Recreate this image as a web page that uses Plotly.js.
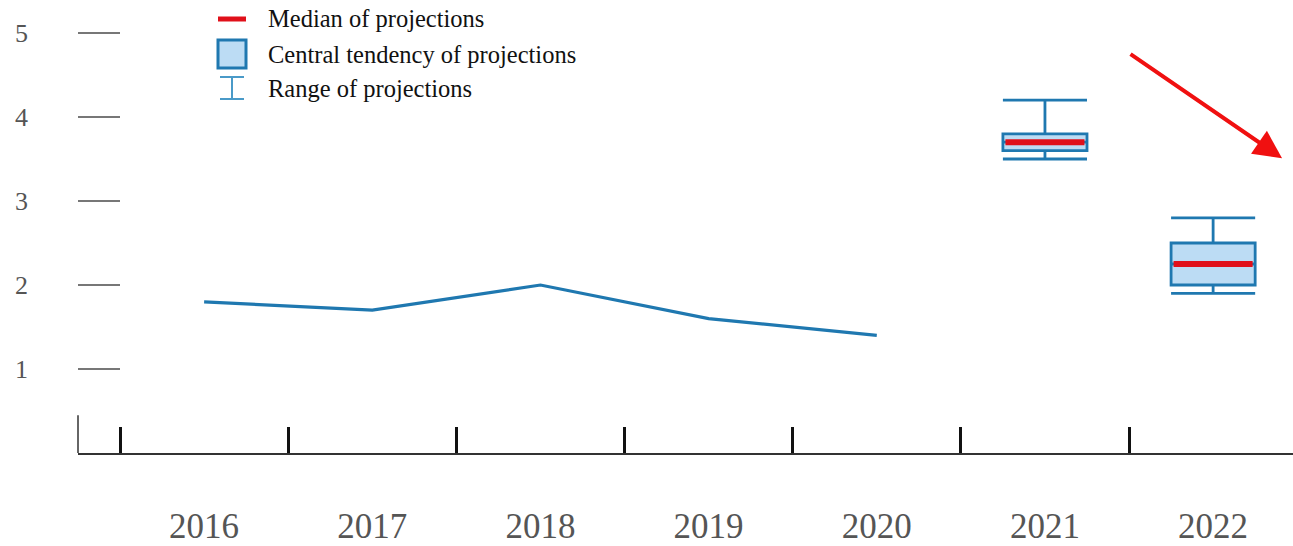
<!DOCTYPE html>
<html>
<head>
<meta charset="utf-8">
<script src="https://cdn.plot.ly/plotly-3.0.1.min.js"></script>
<style>html,body{margin:0;padding:0;background:#fff;}#chart{width:1293px;height:546px;}</style>
</head>
<body>
<div id="chart"></div>
<script>
// Historical values
const histYears = [2016, 2017, 2018, 2019, 2020];
const histValues = [1.8, 1.7, 2.0, 1.6, 1.4];
// Projections
const projYears = [2021, 2022];
const rangeLow = [3.5, 1.9];
const rangeHigh = [4.2, 2.8];
const centralLow = [3.6, 2.0];
const centralHigh = [3.8, 2.5];
const medians = [3.7, 2.25];
// Ticks
const xTickYears = [2016, 2017, 2018, 2019, 2020, 2021, 2022];
const xTickLabels = ['2016', '2017', '2018', '2019', '2020', '2021', '2022'];
const xBoundaries = [2015.5, 2016.5, 2017.5, 2018.5, 2019.5, 2020.5, 2021.5];
const yTicks = [1, 2, 3, 4, 5];
const legendLabels = ['Median of projections', 'Central tendency of projections', 'Range of projections'];

const W = 1293, H = 546, ML = 78, MR = 0, MT = 0, MB = 93;
const PW = W - ML - MR, PH = H - MT - MB;
const px = v => (v - ML) / PW;
const py = v => (H - MB - v) / PH;

const blue = '#1f78b0';
const fillBlue = '#bcdcf4';
const red = '#e0101a';
const serif = 'Liberation Serif, Times New Roman, serif';

const traces = [
  {
    type: 'scatter', mode: 'lines', x: histYears, y: histValues,
    line: {color: blue, width: 3.2}, hoverinfo: 'x+y', showlegend: false
  },
  {
    type: 'box', x: projYears, q1: centralLow, q3: centralHigh, median: centralLow.map((v, i) => (v + centralHigh[i]) / 2),
    lowerfence: rangeLow, upperfence: rangeHigh, width: 0.5, whiskerwidth: 1,
    fillcolor: fillBlue, line: {color: blue, width: 2.8}, boxpoints: false, showlegend: false
  },
  {
    type: 'box', x: projYears, q1: medians, q3: medians, median: medians,
    lowerfence: medians, upperfence: medians, width: 0.47, whiskerwidth: 0,
    fillcolor: 'rgba(0,0,0,0)', line: {color: red, width: 6}, boxpoints: false, showlegend: false
  }
];

const shapes = [
  // partial left axis line
  {type: 'line', xref: 'paper', yref: 'y', x0: 0, x1: 0, y0: 0, y1: 0.45, line: {color: '#333', width: 1.5}},
  // legend: median
  {type: 'line', xref: 'paper', yref: 'paper', x0: px(218), x1: px(246), y0: py(19), y1: py(19), line: {color: red, width: 5}},
  // legend: central tendency
  {type: 'rect', xref: 'paper', yref: 'paper', x0: px(218), x1: px(246), y0: py(68), y1: py(40), fillcolor: fillBlue, line: {color: blue, width: 3}},
  // legend: range
  {type: 'line', xref: 'paper', yref: 'paper', x0: px(232), x1: px(232), y0: py(77), y1: py(99), line: {color: '#4a9ac8', width: 2}},
  {type: 'line', xref: 'paper', yref: 'paper', x0: px(220), x1: px(244), y0: py(77), y1: py(77), line: {color: '#4a9ac8', width: 2}},
  {type: 'line', xref: 'paper', yref: 'paper', x0: px(220), x1: px(244), y0: py(99), y1: py(99), line: {color: '#4a9ac8', width: 2}}
];

const legendY = [19, 54, 88];
const annotations = legendLabels.map((t, i) => ({
  xref: 'paper', yref: 'paper', x: px(266), y: py(legendY[i]), text: t, showarrow: false,
  xanchor: 'left', yanchor: 'middle', font: {family: serif, size: 24.5, color: '#111'}
}));
annotations.push({
  xref: 'x', yref: 'y', axref: 'x', ayref: 'y',
  x: 2022.41, y: 3.51, ax: 2021.5, ay: 4.76, text: '', showarrow: true,
  arrowcolor: '#f01010', arrowwidth: 4, arrowhead: 2, arrowsize: 1.4
});

const layout = {
  width: W, height: H,
  margin: {l: ML, r: MR, t: MT, b: MB},
  paper_bgcolor: '#fff', plot_bgcolor: '#fff',
  showlegend: false, boxmode: 'overlay',
  xaxis: {
    range: [2015.25, 2022.475], tickvals: xTickYears, ticktext: xTickLabels,
    ticks: '', showgrid: false, zeroline: false, showline: true, linecolor: '#333', linewidth: 2,
    tickfont: {family: serif, size: 35, color: '#555'}, ticklabelstandoff: 41, fixedrange: true,
    minor: {tickvals: xBoundaries, ticks: 'inside', ticklen: 26, tickwidth: 3, tickcolor: '#111', showgrid: false}
  },
  yaxis: {
    range: [0, PH / 84], tickvals: yTicks, ticks: 'inside', ticklen: 42, tickwidth: 2, tickcolor: '#777',
    showgrid: false, zeroline: false, showline: false,
    tickfont: {family: serif, size: 26, color: '#555'}, ticklabelstandoff: 49
  },
  shapes: shapes,
  annotations: annotations
};

Plotly.newPlot('chart', traces, layout, {displayModeBar: false, staticPlot: true});
</script>
</body>
</html>
